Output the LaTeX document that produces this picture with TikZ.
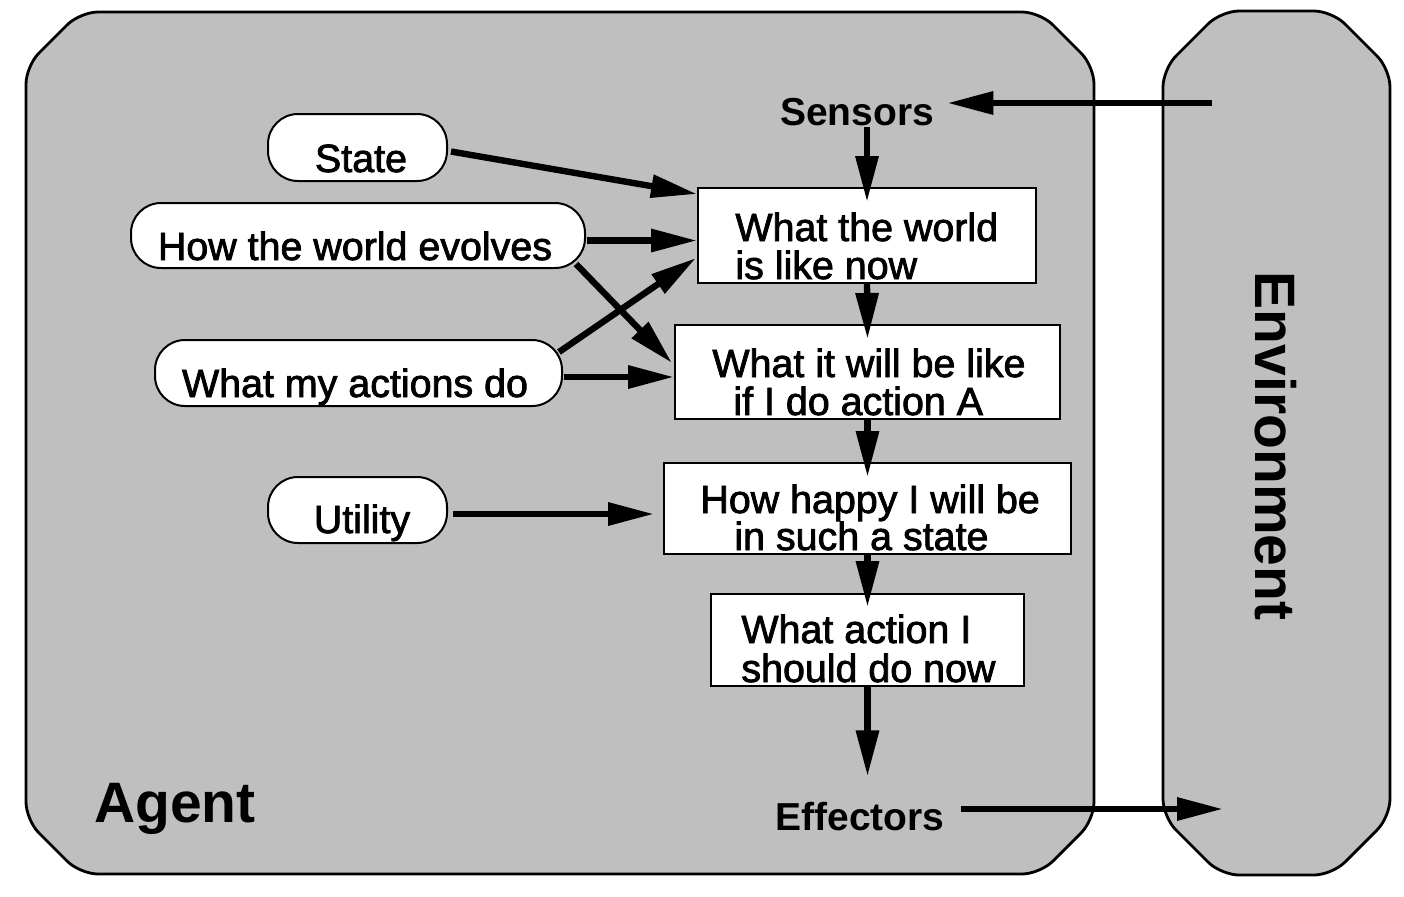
\documentclass[tikz,border=0pt]{standalone}
\usepackage{fontspec}
\setmainfont{Liberation Sans}
\newfontfamily\heavyreg[FakeBold=2]{Liberation Sans}
\usetikzlibrary{arrows.meta,calc}
\definecolor{panelgray}{RGB}{191,191,191}
\begin{document}
\begin{tikzpicture}[x=0.5pt,y=-0.5pt,
  outline/.style={draw=black, line width=1.4pt, fill=panelgray, rounded corners=9pt},
  pill/.style={draw=black, line width=1pt, fill=white, rounded corners=15pt, inner sep=0pt},
  box/.style={draw=black, line width=1pt, fill=white, inner sep=0pt},
  txt/.style={font=\heavyreg\fontsize{19.7pt}{23pt}\selectfont, inner sep=0pt, anchor=base west},
  ptxt/.style={font=\heavyreg\fontsize{19.7pt}{23pt}\selectfont, inner sep=0pt, anchor=base},
  lbl/.style={font=\bfseries\fontsize{19.5pt}{23pt}\selectfont, inner sep=0pt, anchor=base},
  big/.style={font=\bfseries\fontsize{28.5pt}{34pt}\selectfont, inner sep=0pt},
  arr/.style={line width=3.2pt, -{Triangle[length=23pt,width=11pt]}}
]
\useasboundingbox (0,0) rectangle (1404,896);
% panels
\draw[outline] (80,12) -- (1040,12) -- (1094,66) -- (1094,820) -- (1040,874) -- (80,874) -- (26,820) -- (26,66) -- cycle;
\draw[outline] (1221,11) -- (1332,11) -- (1390,69) -- (1390,817) -- (1332,875) -- (1221,875) -- (1163,817) -- (1163,69) -- cycle;
\coordinate (envS) at (1212,103);
\coordinate (envE) at (1223,809);
% pills
\node[pill, minimum width=89.5pt, minimum height=33.5pt] (state) at (357.5,147.5) {};
\node[pill, minimum width=227pt, minimum height=32.5pt] (ev) at (358,235.5) {};
\node[pill, minimum width=203.5pt, minimum height=33pt] (act) at (358.5,373) {};
\node[pill, minimum width=89.5pt, minimum height=33pt] (util) at (357.5,510) {};
\node[ptxt] (tstate) at (361,172) {State};
\node[ptxt] (tev) at (355,260) {How the world evolves};
\node[ptxt] (tact) at (355,397) {What my actions do};
\node[ptxt] (tutil) at (362,533) {Utility};
% boxes
\node[box, minimum width=169pt, minimum height=47.5pt] (w1) at (867,235.5) {};
\node[box, minimum width=192.5pt, minimum height=47pt] (w2) at (867.5,372) {};
\node[box, minimum width=203.5pt, minimum height=45.5pt] (w3) at (867.5,508.5) {};
\node[box, minimum width=156.5pt, minimum height=46pt] (w4) at (867.5,640) {};
\node[txt] (t1a) at (735,241) {What the world};
\node[txt] (t1b) at (735,279) {is like now};
\node[txt] (t2a) at (712,377) {What it will be like};
\node[txt] (t2b) at (733,415) {if I do action A};
\node[txt] (t3a) at (700,513) {How happy I will be};
\node[txt] (t3b) at (734,550) {in such a state};
\node[txt] (t4a) at (741,643) {What action I};
\node[txt] (t4b) at (741,682) {should do now};
% labels
\node[lbl] (sens) at (857,125) {Sensors};
\node[lbl] (eff) at (860,830) {Effectors};
\node[big, anchor=base] (agent) at (175,822) {Agent};
\node[big, rotate=-90] (env) at (1276,446) {Environment};
% arrows
\draw[arr] (envS) -- ($(sens.east |- envS)+(13,0)$);
\draw[arr] ($(w1.north |- sens.base)+(0,2)$) -- ($(w1.north)+(0,15)$);
\draw[arr] (w1.south) -- ($(w2.north)+(0,15)$);
\draw[arr] (w2.south) -- ($(w3.north)+(0,15)$);
\draw[arr] (w3.south) -- ($(w4.north)+(0,14)$);
\draw[arr] (w4.south) -- ($(w4.south |- eff.north)+(0,-25)$);
\draw[arr] ($(eff.east |- envE)+(16,0)$) -- (envE);
\draw[arr] ($(state.east)+(3,4)$) -- ($(w1.north west)+(0,7)$);
\draw[arr] ($(ev.east)+(1,5)$) -- ($(w1.west |- ev.east)+(0,5)$);
\draw[arr] ($(ev.south east)+(-10,-5)$) -- ($(w2.west)+(-2,-9)$);
\draw[arr] ($(act.north east)+(-4,13)$) -- ($(w1.south west)+(-1,-26)$);
\draw[arr] ($(act.east)+(1,4)$) -- ($(w2.west |- act.east)+(0,4)$);
\draw[arr] ($(util.east)+(5,4)$) -- ($(w3.west |- util.east)+(-9,4)$);
\end{tikzpicture}
\end{document}
